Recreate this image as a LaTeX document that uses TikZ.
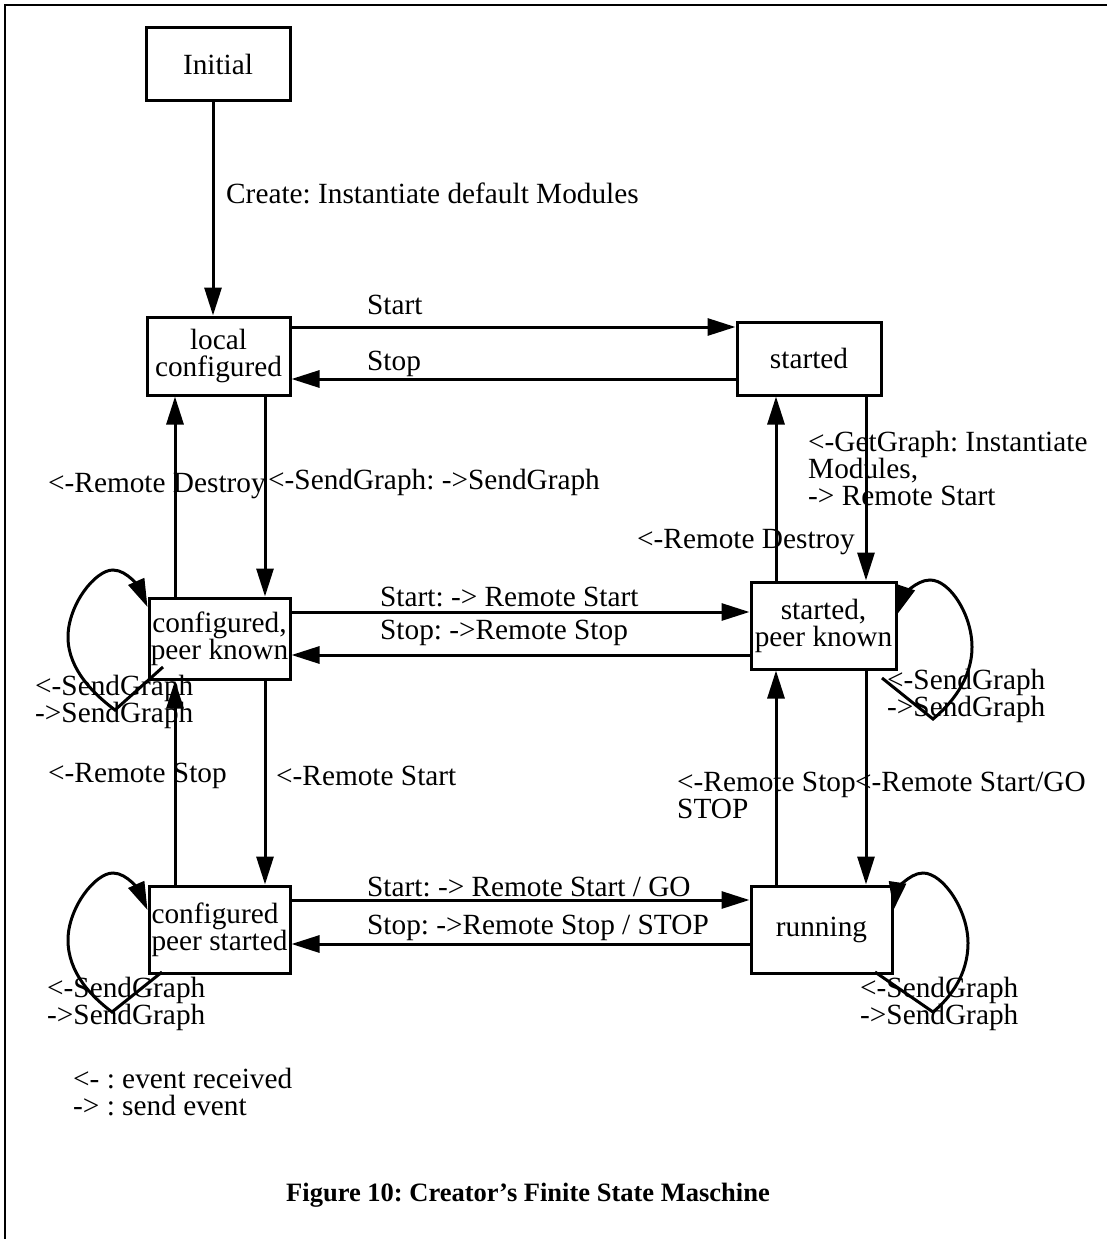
\documentclass[tikz,border=0pt]{standalone}
\usepackage{fontspec}
\setmainfont{Liberation Serif}
\usetikzlibrary{arrows.meta,calc}
\tikzset{
  arr/.style={-{Triangle[length=28pt,width=17pt]}, line width=3pt},
  box/.style={draw, line width=3pt, inner sep=1pt, align=center},
  lab/.style={inner sep=0pt, anchor=west, align=left},
  frameline/.style={line width=2pt}
}
\frenchspacing
\begin{document}
\begin{tikzpicture}[x=1pt,y=-1pt,font=\fontsize{29.3}{27}\selectfont\frenchspacing]
\useasboundingbox (0,0) rectangle (1107,1239);
% frame
\draw[frameline] (5,1239) -- (5,5) -- (1107,5);

% states
\node[box, minimum width=144pt, minimum height=72pt] (init) at (218,64) {Initial};
\node[box, minimum width=143pt, minimum height=78pt] (lc) at (218.5,356) {local\\configured};
\node[box, minimum width=144pt, minimum height=73pt] (st) at (809,358.5) {started};
\node[box, minimum width=141pt, minimum height=81pt] (cpk) at (219.5,638.5) {configured,\\peer known};
\node[box, minimum width=145pt, minimum height=87pt] (spk) at (823.5,625.5) {started,\\peer known};
\node[box, minimum width=141pt, minimum height=87pt, align=left] (cps) at (219.5,929.5) {configured\\peer started};
\node[box, minimum width=141pt, minimum height=87pt] (run) at (821.5,929.5) {running};

% transitions
\draw[arr] (init.south -| 213,0) -- (lc.north -| 213,0);
\node[lab] (lcreate) at (226,193) {Create: Instantiate default Modules};

\draw[arr] (lc.east |- 0,327) -- (st.west |- 0,327);
\node[lab] (lstart1) at (367,305) {Start};
\draw[arr] (st.west |- 0,379) -- (lc.east |- 0,379);
\node[lab] (lstop1) at (367,364) {Stop};

\draw[arr] (lc.south -| 265,0) -- (cpk.north -| 265,0);
\node[lab] (lsg) at (268,482) {<-SendGraph: ->SendGraph};
\draw[arr] (cpk.north -| 175,0) -- (lc.south -| 175,0);
\node[lab] (ldestroyL) at (48,486) {<-Remote Destroy};

\draw[arr] (st.south -| 866,0) -- (spk.north -| 866,0);
\node[lab] (lgg) at (808,468) {<-GetGraph: Instantiate\\Modules,\\-> Remote Start};
\draw[arr] (spk.north -| 776,0) -- (st.south -| 776,0);
\node[lab] (ldestroyR) at (637,542) {<-Remote Destroy};

\draw[arr] (cpk.east |- 0,612) -- (spk.west |- 0,612);
\node[lab] (lstart2) at (380,597) {Start: -> Remote Start};
\draw[arr] (spk.west |- 0,655) -- (cpk.east |- 0,655);
\node[lab] (lstop2) at (380,633) {Stop: ->Remote Stop};

\draw[arr] (cpk.south -| 265,0) -- (cps.north -| 265,0);
\node[lab] (lrstartL) at (276,776) {<-Remote Start};
\draw[arr] (cps.north -| 175,0) -- (cpk.south -| 175,0);
\node[lab] (lrstopL) at (48,776) {<-Remote Stop};

\draw[arr] (cps.east |- 0,900) -- (run.west |- 0,900);
\node[lab] (lstart3) at (367,887) {Start: -> Remote Start / GO};
\draw[arr] (run.west |- 0,944) -- (cps.east |- 0,944);
\node[lab] (lstop3) at (367,928) {Stop: ->Remote Stop / STOP};

\draw[arr] (spk.south -| 866,0) -- (run.north -| 866,0);
\node[lab] (lrstartR) at (855,782) {<-Remote Start/GO};
\draw[arr] (run.north -| 776,0) -- (spk.south -| 776,0);
\node[lab] (lrstopR) at (677,795) {<-Remote Stop\\STOP};

% self loops
\draw[arr] (163,667) -- (115,710) .. controls (95,695) and (68,670) .. (68,637)
  .. controls (68,605) and (95,570) .. (113,570) .. controls (128,570) and (140,590) .. (cpk.west |- 0,607);
\node[lab] (lloop1) at (35,701.5) {<-SendGraph\\->SendGraph};

\draw[arr] (162,972) -- (112,1012) .. controls (92,997) and (68,973) .. (68,940)
  .. controls (68,908) and (95,873) .. (113,873) .. controls (128,873) and (140,893) .. (cps.west |- 0,910);
\node[lab] (lloop2) at (47,1004) {<-SendGraph\\->SendGraph};

\draw[arr] (882,678) -- (933,719) .. controls (950,705) and (972,680) .. (972,647)
  .. controls (972,615) and (950,580) .. (930,580) .. controls (915,580) and (903,598) .. (spk.east |- 0,614);
\node[lab] (lloop3) at (887,695.5) {<-SendGraph\\->SendGraph};

\draw[arr] (875,972) -- (933,1012) .. controls (950,998) and (968,975) .. (968,943)
  .. controls (968,910) and (943,873) .. (923,873) .. controls (908,873) and (896,893) .. (run.east |- 0,910);
\node[lab] (lloop4) at (860,1003.5) {<-SendGraph\\->SendGraph};

% legend and caption
\node[lab] (legend) at (73,1092.5) {<- : event received\\-> : send event};
\node[font=\fontsize{26.5}{28}\selectfont\bfseries\frenchspacing, inner sep=0pt] (caption) at (528,1195) {Figure 10: Creator’s Finite State Maschine};
\end{tikzpicture}
\end{document}
